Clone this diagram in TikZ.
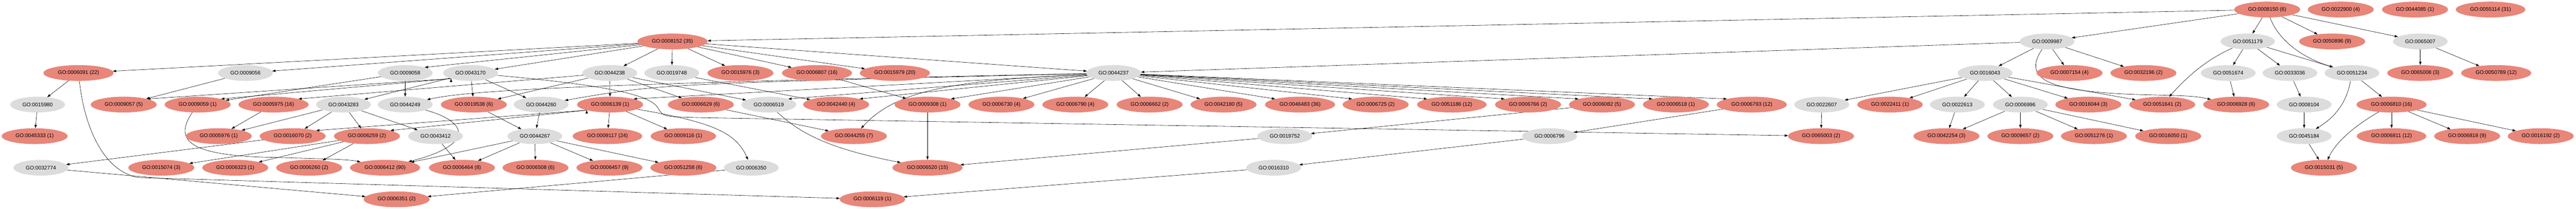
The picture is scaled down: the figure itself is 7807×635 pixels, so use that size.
\documentclass[tikz,border=0pt]{standalone}
\usepackage{fontspec}
\setmainfont{Liberation Sans}
\usepackage{tikz}
\usetikzlibrary{shapes,arrows.meta,backgrounds}
\definecolor{hitred}{HTML}{E8867A}
\definecolor{termgray}{HTML}{DCDCDC}
\tikzset{
  goterm/.style={ellipse, fill=termgray, draw=none, minimum width=163pt, minimum height=48pt,
    inner xsep=13pt, inner ysep=0pt, font=\fontsize{16}{18}\selectfont},
  gohit/.style={goterm, fill=hitred},
  link/.style={->, line width=0.9pt},
}
\begin{document}
\begin{tikzpicture}[x=1pt, y=-1pt, >={Triangle[length=10pt,width=7pt]}]
   \useasboundingbox (0,0) rectangle (7807,635);
   % row 0
   \node[gohit] (n8150) at (6871,29) {GO:0008150 (6)};
   \node[gohit] (n22900) at (7094,29) {GO:0022900 (4)};
   \node[gohit] (n44085) at (7319,29) {GO:0044085 (1)};
   \node[gohit] (n55114) at (7548,29) {GO:0055114 (31)};
   % row 1
   \node[gohit] (n8152) at (2038,126) {GO:0008152 (35)};
   \node[goterm] (n9987) at (6204,126) {GO:0009987};
   \node[goterm] (n51179) at (6812,126) {GO:0051179};
   \node[gohit] (n50896) at (7068,126) {GO:0050896 (9)};
   \node[goterm] (n65007) at (7335,126) {GO:0065007};
   % row 2
   \node[gohit] (n6091) at (238,222) {GO:0006091 (22)};
   \node[goterm] (n9056) at (744,222) {GO:0009056};
   \node[goterm] (n9058) at (1228,222) {GO:0009058};
   \node[goterm] (n43170) at (1426,222) {GO:0043170};
   \node[goterm] (n44238) at (1848,222) {GO:0044238};
   \node[goterm] (n19748) at (2036,222) {GO:0019748};
   \node[gohit] (n15976) at (2244,222) {GO:0015976 (3)};
   \node[gohit] (n6807) at (2476,222) {GO:0006807 (16)};
   \node[gohit] (n15979) at (2712,222) {GO:0015979 (20)};
   \node[goterm] (n44237) at (3375,222) {GO:0044237};
   \node[goterm] (n16043) at (6016,222) {GO:0016043};
   \node[gohit] (n7154) at (6272,222) {GO:0007154 (4)};
   \node[gohit] (n32196) at (6496,222) {GO:0032196 (2)};
   \node[goterm] (n51674) at (6753,222) {GO:0051674};
   \node[goterm] (n33036) at (6940,222) {GO:0033036};
   \node[goterm] (n51234) at (7128,222) {GO:0051234};
   \node[gohit] (n65008) at (7335,222) {GO:0065008 (3)};
   \node[gohit] (n50789) at (7565,222) {GO:0050789 (12)};
   % row 3
   \node[goterm] (n15980) at (114,318) {GO:0015980};
   \node[gohit] (n9057) at (375,318) {GO:0009057 (5)};
   \node[gohit] (n9059) at (599,318) {GO:0009059 (1)};
   \node[gohit] (n5975) at (829,318) {GO:0005975 (16)};
   \node[goterm] (n43283) at (1041,318) {GO:0043283};
   \node[goterm] (n44249) at (1228,318) {GO:0044249};
   \node[gohit] (n19538) at (1436,318) {GO:0019538 (6)};
   \node[goterm] (n44260) at (1640,318) {GO:0044260};
   \node[gohit] (n6139) at (1849,318) {GO:0006139 (1)};
   \node[gohit] (n6629) at (2124,318) {GO:0006629 (6)};
   \node[goterm] (n6519) at (2330,318) {GO:0006519};
   \node[gohit] (n42440) at (2534,318) {GO:0042440 (4)};
   \node[gohit] (n9308) at (2811,318) {GO:0009308 (1)};
   \node[gohit] (n6730) at (3035,318) {GO:0006730 (4)};
   \node[gohit] (n6790) at (3259,318) {GO:0006790 (4)};
   \node[gohit] (n6662) at (3484,318) {GO:0006662 (2)};
   \node[gohit] (n42180) at (3708,318) {GO:0042180 (5)};
   \node[gohit] (n46483) at (3940,318) {GO:0046483 (36)};
   \node[gohit] (n6725) at (4169,318) {GO:0006725 (2)};
   \node[gohit] (n51186) at (4400,318) {GO:0051186 (12)};
   \node[gohit] (n6766) at (4631,318) {GO:0006766 (2)};
   \node[gohit] (n6082) at (4855,318) {GO:0006082 (5)};
   \node[gohit] (n6518) at (5079,318) {GO:0006518 (1)};
   \node[gohit] (n6793) at (5309,318) {GO:0006793 (12)};
   \node[goterm] (n22607) at (5521,318) {GO:0022607};
   \node[gohit] (n22411) at (5728,318) {GO:0022411 (1)};
   \node[goterm] (n22613) at (5932,318) {GO:0022613};
   \node[goterm] (n6996) at (6123,318) {GO:0006996};
   \node[gohit] (n16044) at (6329,318) {GO:0016044 (3)};
   \node[gohit] (n51641) at (6553,318) {GO:0051641 (2)};
   \node[gohit] (n6928) at (6777,318) {GO:0006928 (6)};
   \node[goterm] (n8104) at (6983,318) {GO:0008104};
   \node[gohit] (n6810) at (7248,318) {GO:0006810 (16)};
   % row 4
   \node[gohit] (n45333) at (105,414) {GO:0045333 (1)};
   \node[gohit] (n5976) at (663,414) {GO:0005976 (1)};
   \node[gohit] (n16070) at (887,414) {GO:0016070 (2)};
   \node[gohit] (n6259) at (1112,414) {GO:0006259 (2)};
   \node[goterm] (n43412) at (1320,414) {GO:0043412};
   \node[goterm] (n44267) at (1621,414) {GO:0044267};
   \node[gohit] (n9117) at (1841,414) {GO:0009117 (24)};
   \node[gohit] (n9116) at (2071,414) {GO:0009116 (1)};
   \node[gohit] (n44255) at (2588,414) {GO:0044255 (7)};
   \node[goterm] (n19752) at (3894,414) {GO:0019752};
   \node[goterm] (n6796) at (4696,414) {GO:0006796};
   \node[gohit] (n65003) at (5519,414) {GO:0065003 (2)};
   \node[gohit] (n42254) at (5899,414) {GO:0042254 (3)};
   \node[gohit] (n9657) at (6123,414) {GO:0009657 (2)};
   \node[gohit] (n51276) at (6346,414) {GO:0051276 (1)};
   \node[gohit] (n16050) at (6571,414) {GO:0016050 (1)};
   \node[goterm] (n45184) at (6983,414) {GO:0045184};
   \node[gohit] (n6811) at (7248,414) {GO:0006811 (12)};
   \node[gohit] (n6818) at (7477,414) {GO:0006818 (9)};
   \node[gohit] (n16192) at (7700,414) {GO:0016192 (2)};
   % row 5
   \node[goterm] (n32774) at (124,510) {GO:0032774};
   \node[gohit] (n15074) at (489,510) {GO:0015074 (3)};
   \node[gohit] (n6323) at (713,510) {GO:0006323 (1)};
   \node[gohit] (n6260) at (937,510) {GO:0006260 (2)};
   \node[gohit] (n6412) at (1167,510) {GO:0006412 (90)};
   \node[gohit] (n6464) at (1400,510) {GO:0006464 (8)};
   \node[gohit] (n6508) at (1623,510) {GO:0006508 (6)};
   \node[gohit] (n6457) at (1847,510) {GO:0006457 (9)};
   \node[gohit] (n51258) at (2071,510) {GO:0051258 (6)};
   \node[goterm] (n6350) at (2277,510) {GO:0006350};
   \node[gohit] (n6520) at (2811,510) {GO:0006520 (15)};
   \node[goterm] (n16310) at (3860,510) {GO:0016310};
   \node[gohit] (n15031) at (7043,510) {GO:0015031 (5)};
   % row 6
   \node[gohit] (n6351) at (1202,606) {GO:0006351 (2)};
   \node[gohit] (n6119) at (2644,606) {GO:0006119 (1)};

   \begin{pgfonlayer}{background}
   \draw[link] (n8150) edge (n8152) edge (n9987) edge (n51179) edge (n50896) edge (n65007);
   \draw[link] (n8150) .. controls (6900,110) and (6960,170) .. (n51234);
   \draw[link] (n8152) edge (n6091) edge (n9056) edge (n9058.north east) edge (n43170) edge (n44238)
     edge (n19748) edge (n15976) edge (n6807) edge (n15979) edge (n44237);
   \draw[link] (n9987) edge (n44237) edge (n16043) edge (n7154) edge (n32196);
   \draw[link] (n9987) .. controls (6130,240) and (6200,280) .. (6500,288) .. controls (6650,292) .. (n6928);
   \draw[link] (n51179) edge (n51674) edge (n33036) edge (n51234);
   \draw[link] (n51179) .. controls (6700,175) and (6640,220) .. (n51641);
   \draw[link] (n65007) edge (n65008) edge (n50789);
   \draw[link] (n6091) edge (n15980);
   \draw[link] (n6091) .. controls (255,380) and (310,520) .. (420,540) -- (n6119);
   \draw[link] (n9056) edge (n9057);
   \draw[link] (n9058) edge (n9059) edge (n44249);
   \draw[link] (n43170.south west) edge (n9057.north east) edge (n9059.north east);
   \draw[link] (n43170) edge (n43283) edge (n19538) edge (n44260);
   \draw[link] (n43170) .. controls (1850,260) and (1975,290) .. (1995,330) .. controls (2010,355) .. (2130,358) -- (n65003);
   \draw[link] (n44238) edge (n5975.north east) edge (n19538) edge (n6139) edge (n6629) edge (n6519);
   \draw[link] (n19748) edge (n42440);
   \draw[link] (n6807) edge (n9308);
   \draw[link] (n44237) .. controls (1750,255) and (1420,275) .. (n44249);
   \draw[link] (n44237) .. controls (2000,255) .. (n44260);
   \draw[link] (n44237) edge (n6139.north east) edge (n6519.north east) edge (n42440.north east)
     edge (n9308.north east) edge (n6730) edge (n6790) edge (n6662) edge (n42180.north west)
     edge (n46483.north west) edge (n6725.north west) edge (n51186.north west) edge (n6766.north west)
     edge (n6082.north west) edge (n6518.north west) edge (n6793.north west);
   \draw[link] (n44237) .. controls (2900,245) and (2720,270) .. (n44255);
   \draw[link] (n16043) edge (n22607) edge (n22411) edge (n22613) edge (n6996) edge (n16044) edge (n51641);
   \draw[link] (n51674) edge (n6928);
   \draw[link] (n33036) edge (n8104);
   \draw[link] (n51234) edge (n6810);
   \draw[link] (n51234) .. controls (7110,320) and (7070,360) .. (n45184);
   \draw[link] (n15980) edge (n45333);
   \draw[link] (n5975) edge (n5976);
   \draw[link] (n43283) edge (n5976) edge (n16070) edge (n6259) edge (n43412);
   \draw[link] (n9059) .. controls (530,420) and (560,470) .. (800,478) .. controls (1000,483) and (1060,485) .. (n6412);
   \draw[link] (n44249) .. controls (1420,370) and (1440,440) .. (n6412);
   \draw[link] (n19538) edge (n44267);
   \draw[link] (n44260) edge (n44267);
   \draw[link] (n6139.south west) edge (n16070.north east) edge (n6259.north east);
   \draw[link] (n6139) edge (n9117) edge (n9116);
   \draw[link] (n6139) .. controls (2150,370) and (2230,400) .. (n6350);
   \draw[link] (n6629) edge (n44255);
   \draw[link] (n6519) .. controls (2420,400) and (2500,450) .. (n6520);
   \draw[link] (n9308) edge (n6520);
   \draw[link] (n6082) edge (n19752);
   \draw[link] (n6793) edge (n6796);
   \draw[link] (n22607) edge (n65003);
   \draw[link] (n22613) edge (n42254);
   \draw[link] (n6996) edge (n42254) edge (n9657) edge (n51276) edge (n16050);
   \draw[link] (n8104) edge (n45184);
   \draw[link] (n6810) edge (n6811) edge (n6818) edge (n16192);
   \draw[link] (n6810) .. controls (7140,380) and (7080,430) .. (n15031);
   \draw[link] (n16070) edge (n32774);
   \draw[link] (n6259) edge (n15074) edge (n6323) edge (n6260);
   \draw[link] (n43412) edge (n6464);
   \draw[link] (n44267) edge (n6464) edge (n6508) edge (n6457) edge (n51258) edge (n6412);
   \draw[link] (n19752) edge (n6520);
   \draw[link] (n6796) edge (n16310);
   \draw[link] (n45184) edge (n15031);
   \draw[link] (n32774) edge (n6351);
   \draw[link] (n6350) edge (n6351);
   \draw[link] (n16310) edge (n6119);
   \end{pgfonlayer}
\end{tikzpicture}
\end{document}
